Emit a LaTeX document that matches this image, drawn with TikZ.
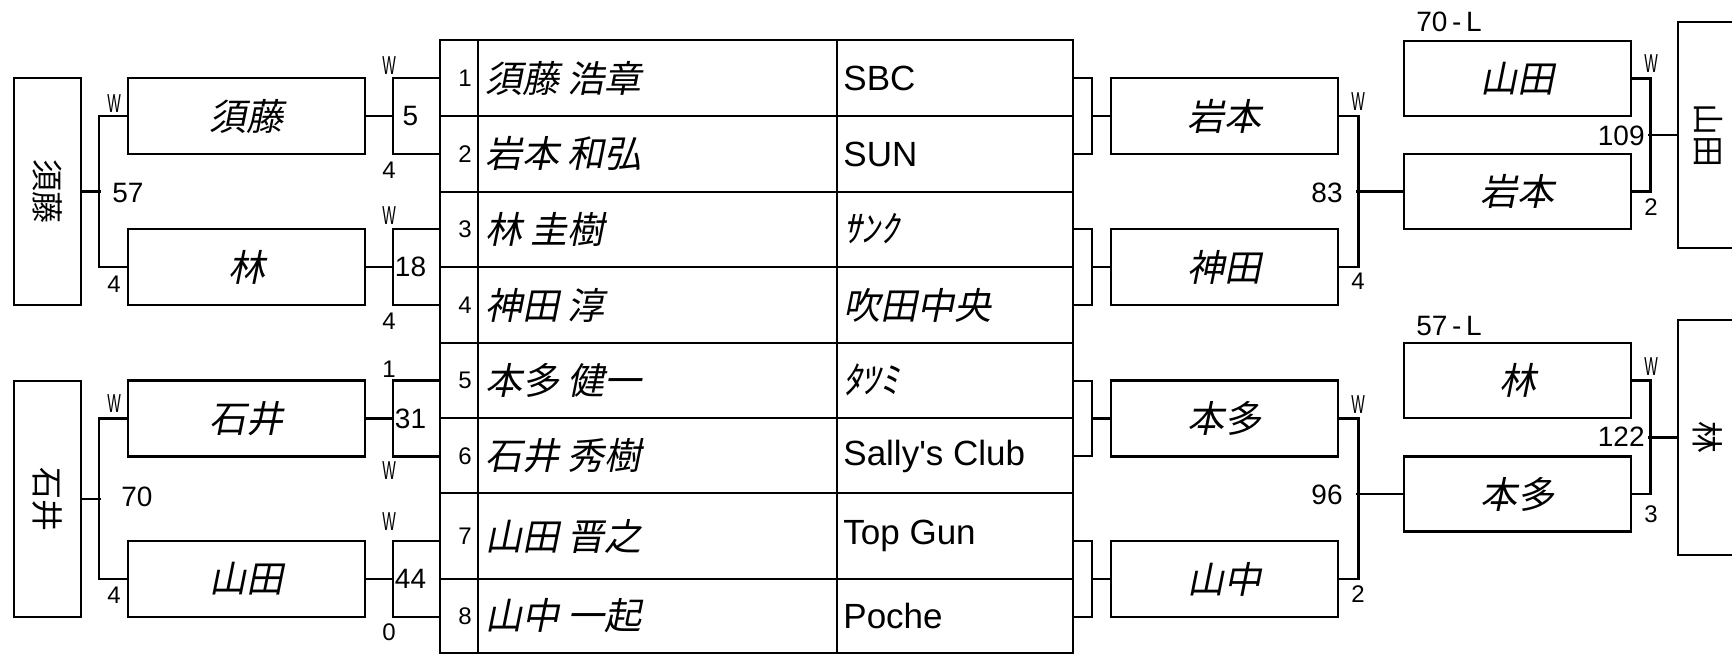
\documentclass[tikz,border=0pt]{standalone}
\usepackage{graphicx}
\usepackage{fontspec}
\setmainfont{Liberation Sans}
\newfontfamily\jpit[FakeSlant=0.2]{Noto Sans CJK JP}
\newfontfamily\jpup{Noto Sans CJK JP}
\newfontfamily\narrow[FakeStretch=0.55]{Liberation Sans}

\begin{document}
\begin{tikzpicture}[x=0.5pt, y=-0.5pt,
    namebox/.style={draw, line width=1.4pt, inner sep=0pt, minimum height=38pt,
      font=\jpit\fontsize{18.5}{20}\selectfont},
    endbox/.style={draw, line width=1.4pt, inner sep=0pt,
      font=\jpup\fontsize{16}{18}\selectfont},
    scorebox/.style={draw, line width=1.4pt, inner sep=0pt, minimum width=23.5pt,
      minimum height=38pt},
    wire/.style={line width=1.1pt},
    grid/.style={line width=1.4pt},
    score/.style={inner sep=0pt, font=\fontsize{14}{16}\selectfont},
    small/.style={inner sep=0pt, font=\fontsize{12}{14}\selectfont},
    win/.style={inner sep=0pt, font=\narrow\fontsize{13}{14}\selectfont},
    player/.style={anchor=west, inner sep=0pt, font=\jpit\fontsize{18.5}{20}\selectfont},
    club/.style={anchor=west, inner sep=0pt, font=\fontsize{17.5}{19}\selectfont}]
    \useasboundingbox (0,0) rectangle (1732,655);
    \clip (0,0) rectangle (1732,655);

    % Draw table.
    \draw[grid] (440,40) rectangle (1073,653);
    \draw[grid] (478,40) -- (478,653);
    \draw[grid] (837,40) -- (837,653);
    \draw[grid] (440,116) -- (1073,116);
    \draw[grid] (440,192) -- (1073,192);
    \draw[grid] (440,267) -- (1073,267);
    \draw[grid] (440,343) -- (1073,343);
    \draw[grid] (440,418) -- (1073,418);
    \draw[grid] (440,493) -- (1073,493);
    \draw[grid] (440,579) -- (1073,579);

    % Seed numbers.
    \node[small, anchor=east] (n1) at (472,78)  {1};
    \node[small, anchor=east] (n2) at (472,154) {2};
    \node[small, anchor=east] (n3) at (472,229) {3};
    \node[small, anchor=east] (n4) at (472,305) {4};
    \node[small, anchor=east] (n5) at (472,380) {5};
    \node[small, anchor=east] (n6) at (472,456) {6};
    \node[small, anchor=east] (n7) at (472,536) {7};
    \node[small, anchor=east] (n8) at (472,616) {8};

    % Players.
    \node[player] (p1) at (485,78)  {須藤 浩章};
    \node[player] (p2) at (485,154) {岩本 和弘};
    \node[player] (p3) at (485,229) {林 圭樹};
    \node[player] (p4) at (485,305) {神田 淳};
    \node[player] (p5) at (485,380) {本多 健一};
    \node[player] (p6) at (485,456) {石井 秀樹};
    \node[player] (p7) at (485,536) {山田 晋之};
    \node[player] (p8) at (485,616) {山中 一起};

    % Clubs.
    \node[club] (c1) at (843,78)  {SBC};
    \node[club] (c2) at (843,154) {SUN};
    \node[club, font=\jpit\fontsize{18.5}{20}\selectfont] (c3) at (843,229) {ｻﾝｸ};
    \node[club, font=\jpit\fontsize{18.5}{20}\selectfont] (c4) at (843,305) {吹田中央};
    \node[club, font=\jpit\fontsize{18.5}{20}\selectfont] (c5) at (843,380) {ﾀﾂﾐ};
    \node[club] (c6) at (843,456) {Sally\textquotesingle s Club};
    \node[club] (c7) at (843,536) {Top Gun};
    \node[club] (c8) at (843,616) {Poche};

    % Left side.
    \node[scorebox, label={[score, xshift=-3pt]center:5}]  (s1) at (416.5,116) {};
    \node[scorebox, label={[score, xshift=-3pt]center:18}] (s2) at (416.5,267) {};
    \node[scorebox, label={[score, xshift=-3pt]center:31}] (s3) at (416.5,418.5) {};
    \node[scorebox, label={[score, xshift=-3pt]center:44}] (s4) at (416.5,579) {};

    \node[namebox, minimum width=118.5pt] (r1) at (246.5,116)   {須藤};
    \node[namebox, minimum width=118.5pt] (r2) at (246.5,267)   {林};
    \node[namebox, minimum width=118.5pt] (r3) at (246.5,418.5) {石井};
    \node[namebox, minimum width=118.5pt] (r4) at (246.5,579)   {山田};

    \node[endbox, minimum width=33.5pt, minimum height=113.5pt] (e1) at (47.5,191.5)
      {\rotatebox{-90}{須藤}};
    \node[endbox, minimum width=33.5pt, minimum height=118pt] (e2) at (47.5,499)
      {\rotatebox{-90}{石井}};

    \draw[wire] (r1.east) -- (s1.west);
    \draw[wire] (r2.east) -- (s2.west);
    \draw[wire] (r3.east) -- (s3.west);
    \draw[wire] (r4.east) -- (s4.west);
    \draw[wire] (r1.west) -- ++(-28,0) |- (r2.west);
    \draw[wire] (r3.west) -- ++(-28,0) |- (r4.west);
    \draw[wire] (e1.east) -- ++(19,0);
    \draw[wire] (e2.east) -- ++(19,0);

    \node[win] (lw1) at (389,66)  {W};
    \node[small] (ll1) at (389,170) {4};
    \node[win] (lw2) at (389,216) {W};
    \node[small] (ll2) at (389,321) {4};
    \node[small] (ll3) at (389,369) {1};
    \node[win] (lw3) at (389,471) {W};
    \node[win] (lw4) at (389,522) {W};
    \node[small] (ll4) at (389,632) {0};

    \node[win] (lw5) at (114,104) {W};
    \node[small] (ll5) at (114,284) {4};
    \node[score, anchor=west] (lt1) at (112,193) {57};
    \node[win] (lw6) at (114,404) {W};
    \node[small] (ll6) at (114,595) {4};
    \node[score] (lt2) at (137,497) {70};

    % Right side.
    \coordinate (k1) at (1073,78);
    \coordinate (k2) at (1073,154);
    \coordinate (k3) at (1073,229);
    \coordinate (k4) at (1073,305);
    \coordinate (k5) at (1073,381);
    \coordinate (k6) at (1073,456);
    \coordinate (k7) at (1073,541);
    \coordinate (k8) at (1073,617);

    \node[namebox, minimum width=113.5pt] (q1) at (1224.5,116)   {岩本};
    \node[namebox, minimum width=113.5pt] (q2) at (1224.5,267)   {神田};
    \node[namebox, minimum width=113.5pt] (q3) at (1224.5,418.5) {本多};
    \node[namebox, minimum width=113.5pt] (q4) at (1224.5,579)   {山中};

    \draw[wire] (k1) -| ([xshift=9.5pt]k2) -- (k2);
    \draw[wire] (k3) -| ([xshift=9.5pt]k4) -- (k4);
    \draw[wire] (k5) -| ([xshift=9.5pt]k6) -- (k6);
    \draw[wire] (k7) -| ([xshift=9.5pt]k8) -- (k8);
    \draw[wire] (q1.west) -- ++(-19,0);
    \draw[wire] (q2.west) -- ++(-19,0);
    \draw[wire] (q3.west) -- ++(-19,0);
    \draw[wire] (q4.west) -- ++(-19,0);

    \node[namebox, minimum width=113.5pt, minimum height=37.5pt] (f1) at (1517.5,78.5)  {山田};
    \node[namebox, minimum width=113.5pt, minimum height=37.5pt] (f2) at (1517.5,191.5) {岩本};
    \node[namebox, minimum width=113.5pt, minimum height=37.5pt] (f3) at (1517.5,380.5) {林};
    \node[namebox, minimum width=113.5pt, minimum height=37.5pt] (f4) at (1517.5,494)   {本多};

    \draw[wire] (q1.east) -- ++(19,0) |- (q2.east);
    \draw[wire] (q3.east) -- ++(19,0) |- (q4.east);
    \draw[wire] (f2.west) -- ++(-47,0);
    \draw[wire] (f4.west) -- ++(-47,0);

    \node[win] (rw1) at (1358,102) {W};
    \node[small] (rl1) at (1358,281) {4};
    \node[score] (rt1) at (1327,193) {83};
    \node[win] (rw2) at (1358,405) {W};
    \node[small] (rl2) at (1358,594) {2};
    \node[score] (rt2) at (1327,495) {96};

    % Final.
    \node[endbox, minimum width=30pt, minimum height=113pt] (w1) at (1708,135)
      {\rotatebox{-90}{山田}};
    \node[endbox, minimum width=30pt, minimum height=117.5pt] (w2) at (1708,437.5)
      {\rotatebox{-90}{林}};

    \draw[wire] (f1.east) -- ++(18,0) |- (f2.east);
    \draw[wire] (f3.east) -- ++(18,0) |- (f4.east);
    \draw[wire] (w1.west) -- ++(-29,0);
    \draw[wire] (w2.west) -- ++(-29,0);

    \node[score, anchor=west] (fa) at (1416,22) {70\,-\,L};
    \node[win] (fw1) at (1651,64) {W};
    \node[score, anchor=east] (ft1) at (1645,136) {109};
    \node[small] (fl1) at (1651,207) {2};
    \node[score, anchor=west] (fb) at (1416,326) {57\,-\,L};
    \node[win] (fw2) at (1651,367) {W};
    \node[score, anchor=east] (ft2) at (1645,437) {122};
    \node[small] (fl2) at (1651,514) {3};

\end{tikzpicture}
\end{document}
